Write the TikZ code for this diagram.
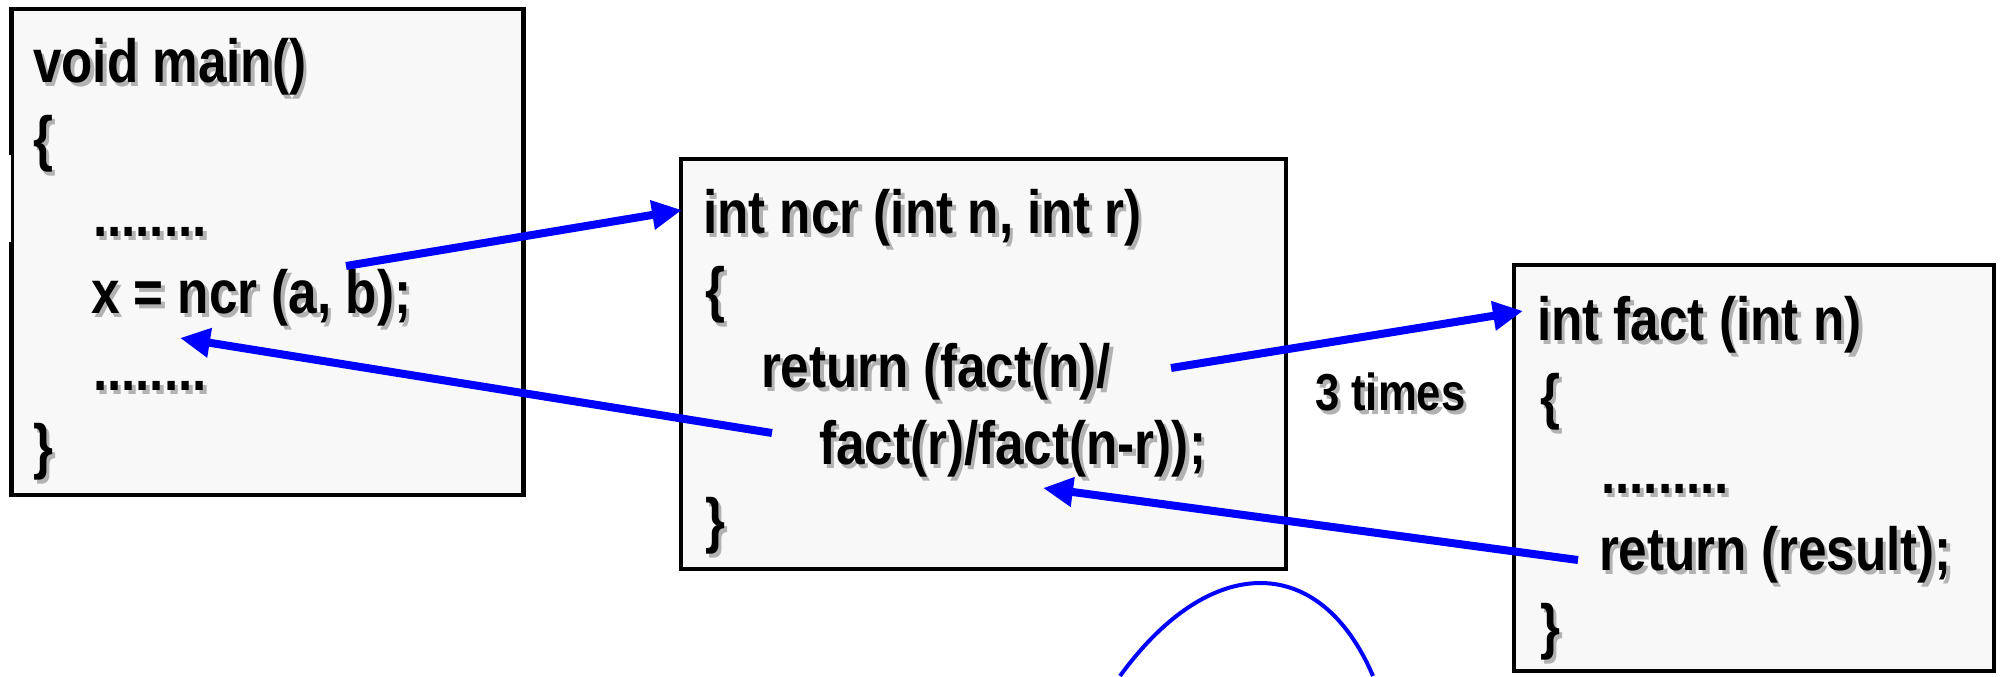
\documentclass[tikz,border=0pt]{standalone}
\usepackage{fontspec}
\setmainfont{Liberation Sans}[FakeStretch=0.84]
\usetikzlibrary{arrows.meta}
\definecolor{boxfill}{HTML}{F8F8F8}
\newcommand\shtxt[1]{\makebox[0pt][l]{\hspace{1.8pt}\raisebox{-2pt}{\textcolor{black!30}{#1}}}#1}
\begin{document}
\begin{tikzpicture}[x=0.5pt,y=-0.5pt,
  codebox/.style={draw=black, line width=2.2pt, fill=boxfill, anchor=north west, inner sep=0pt, outer sep=0pt},
  code/.style={anchor=base west, inner sep=0pt, outer sep=0pt, font=\fontsize{30.5}{30.5}\selectfont\bfseries},
  lbl/.style={anchor=base west, inner sep=0pt, outer sep=0pt, font=\fontsize{26}{26}\selectfont\bfseries},
  callarrow/.style={draw=blue, line width=4pt, -{Triangle[length=15pt,width=14pt]}},
  arc/.style={draw=blue, line width=2pt}]
\useasboundingbox (0,0) rectangle (2007,676);
\fill[white] (0,0) rectangle (2007,676);
% boxes
\node[codebox, minimum width=256pt, minimum height=243pt] (mainbox) at (11.5,9) {};
\fill[white] (8,155) rectangle (11.3,242);
\node[codebox, minimum width=302.5pt, minimum height=205pt] (ncrbox) at (681,159) {};
\node[codebox, minimum width=240pt, minimum height=203pt] (factbox) at (1514,265) {};
% main text
\node[code] (m1) at (33,82) {\shtxt{void main()}};
\node[code] (m2) at (33,159) {\shtxt{\{}};
\node[code] (m3) at (93,236) {\shtxt{........}};
\node[code] (m4) at (91,313) {\shtxt{x = ncr (a, b);}};
\node[code] (m5) at (93,390) {\shtxt{........}};
\node[code] (m6) at (33,467) {\shtxt{\}}};
% ncr text
\node[code] (n1) at (703,233) {\shtxt{int ncr (int n, int r)}};
\node[code] (n2) at (705,310) {\shtxt{\{}};
\node[code] (n3) at (761,387) {\shtxt{return (fact(n)/}};
\node[code] (n4) at (819,464) {\shtxt{fact(r)/fact(n-r));}};
\node[code] (n5) at (705,541) {\shtxt{\}}};
% fact text
\node[code] (f1) at (1537,340) {\shtxt{int fact (int n)}};
\node[code] (f2) at (1540,417) {\shtxt{\{}};
\node[code] (f3) at (1601,493) {\shtxt{.........}};
\node[code] (f4) at (1599,570) {\shtxt{return (result);}};
\node[code] (f5) at (1540,647) {\shtxt{\}}};
% label
\node[lbl] (times) at (1315,410) {\shtxt{3 times}};
% connector end points
\coordinate (c1s) at (346,266);
\coordinate (c1e) at (682,210);
\coordinate (c2s) at (772,433);
\coordinate (c2e) at (180,338);
\coordinate (c3s) at (1171,368);
\coordinate (c3e) at (1523,311);
\coordinate (c4s) at (1578,560);
\coordinate (c4e) at (1043,488);
\draw[callarrow] (c1s) -- (c1e);
\draw[callarrow] (c2s) -- (c2e);
\draw[callarrow] (c3s) -- (c3e);
\draw[callarrow] (c4s) -- (c4e);
% arc at the bottom
\coordinate (al) at (1120,676);
\coordinate (ac1) at (1210,552);
\coordinate (ac2) at (1320,552);
\coordinate (ar) at (1373,676);
\begin{scope}
\clip (0,0) rectangle (2007,676);
\draw[arc] (al) .. controls (ac1) and (ac2) .. (ar);
\end{scope}
\end{tikzpicture}
\end{document}
